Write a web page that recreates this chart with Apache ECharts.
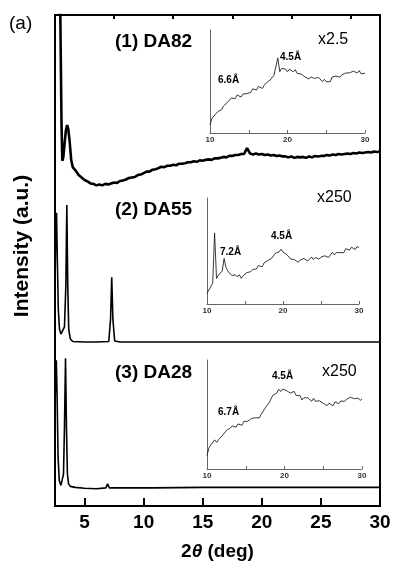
<!DOCTYPE html>
<html>
<head>
<meta charset="utf-8">
<script src="https://cdn.jsdelivr.net/npm/echarts@6/dist/echarts.min.js"></script>
<style>html,body{margin:0;padding:0;background:#fff}#c{width:393px;height:566px}</style>
</head>
<body>
<div id="c"></div>
<script>
// ---------- DATA ----------
var mainMajorTicks = [5, 10, 15, 20, 25, 30];
var mainMinorTicks = [7.5, 12.5, 17.5, 22.5, 27.5];
var insetTicks = [10, 15, 20, 25, 30];
var insetLabels = [10, 20, 30];

// (1) DA82, offset intensity (arb. units, 0-100 scale of the stacked plot)
var da82 = [
 [2.85,110],[2.95,100],[3.05,78],[3.12,70.3],[3.2,71],[3.3,73.5],[3.42,76.5],[3.53,77.6],[3.62,76.8],[3.73,74.5],[3.87,70.5],
 [4.00,69.0],[4.25,68.3],[4.50,67.4],[4.75,66.9],[5.00,66.4],[5.25,66.1],[5.50,65.7],[5.75,65.6],[6.00,65.3],[6.25,65.5],
 [6.50,65.3],[6.75,65.6],[7.00,65.5],[7.25,65.7],[7.50,65.9],[7.75,65.8],[8.00,66.2],[8.25,66.3],[8.50,66.5],[8.75,66.8],
 [9.00,66.9],[9.25,67.0],[9.50,67.4],[9.75,67.5],[10.00,67.8],[10.25,68.1],[10.50,68.1],[10.75,68.5],[11.00,68.6],[11.25,68.8],
 [11.50,69.1],[11.75,69.0],[12.00,69.3],[12.25,69.3],[12.50,69.5],[12.75,69.4],[13.00,69.7],[13.25,69.7],[13.50,69.8],[13.75,70.0],
 [14.00,70.0],[14.25,70.2],[14.50,70.1],[14.75,70.4],[15.00,70.3],[15.25,70.5],[15.50,70.6],[15.75,70.5],[16.00,70.8],[16.25,70.8],
 [16.50,70.9],[16.75,71.1],[17.00,71.0],[17.25,71.3],[17.50,71.3],[17.75,71.5],[18.00,71.5],[18.25,71.7],[18.50,71.7],[18.75,72.9],
 [19.00,71.8],[19.25,71.6],[19.50,71.8],[19.75,71.6],[20.00,71.7],[20.25,71.5],[20.50,71.6],[20.75,71.4],[21.00,71.5],[21.25,71.3],
 [21.50,71.4],[21.75,71.2],[22.00,71.2],[22.25,71.0],[22.50,71.2],[22.75,70.9],[23.00,71.1],[23.25,71.0],[23.50,71.1],[23.75,70.9],
 [24.00,71.2],[24.25,71.0],[24.50,71.3],[24.75,71.2],[25.00,71.3],[25.25,71.3],[25.50,71.5],[25.75,71.4],[26.00,71.6],[26.25,71.5],
 [26.50,71.7],[26.75,71.6],[27.00,71.7],[27.25,71.8],[27.50,71.7],[27.75,71.9],[28.00,71.8],[28.25,72.0],[28.50,71.9],[28.75,72.0],
 [29.00,72.1],[29.25,72.0],[29.50,72.2],[29.75,72.1],[30.00,72.2]
];
// (2) DA55
var da55 = [
 [2.5,45],[2.57,57],[2.63,59.7],[2.7,50],[2.78,40],[2.88,36],[3.0,35],[3.15,35],[3.3,36.5],[3.42,45],[3.5,61.3],[3.58,45],
 [3.66,36],[3.8,34],[4.0,33.5],[5,33.4],[6,33.4],[7.05,33.5],[7.2,38],[7.3,46.6],[7.4,38],[7.55,33.6],[8,33.4],[12,33.4],[20,33.4],[30,33.4]
];
// (3) DA28
var da28 = [
 [2.5,20],[2.56,27],[2.61,29.7],[2.68,22],[2.76,10],[2.86,5.2],[3.0,4.2],[3.12,4.3],[3.22,6.5],[3.3,16],[3.39,30.1],[3.47,16],
 [3.55,6.5],[3.65,4.5],[3.8,4.0],[4.2,3.8],[5.0,3.6],[6.0,3.5],[6.8,3.7],[6.95,4.5],[7.1,3.7],[8,3.7],[10.5,3.7],[10.65,4.0],
 [10.8,3.7],[15,3.8],[20,3.8],[30,3.8]
];

// insets: 2theta 10-30
var insetX = [
 10.00,10.25,10.50,10.75,11.00,11.25,11.50,11.75,12.00,12.25,
 12.50,12.75,13.00,13.25,13.50,13.75,14.00,14.25,14.50,14.75,
 15.00,15.25,15.50,15.75,16.00,16.25,16.50,16.75,17.00,17.25,
 17.50,17.75,18.00,18.25,18.50,18.75,19.00,19.25,19.50,19.75,
 20.00,20.25,20.50,20.75,21.00,21.25,21.50,21.75,22.00,22.25,
 22.50,22.75,23.00,23.25,23.50,23.75,24.00,24.25,24.50,24.75,
 25.00,25.25,25.50,25.75,26.00,26.25,26.50,26.75,27.00,27.25,
 27.50,27.75,28.00,28.25,28.50,28.75,29.00,29.25,29.50,29.75,
 30.00
];
var inset1Y = [
 8,14.2,14.6,18.6,20.7,20.1,22.8,26.3,25.2,29.7,
 30.4,34,34.3,33.3,36.9,35.3,34.9,37.8,39.1,38.3,
 40.2,39.3,42.9,42.5,41.7,45.3,43.7,43.2,46.4,48.6,
 48.2,51.4,51.3,56,57.1,73,59.5,62.7,60.9,62.1,
 59.4,62,60.8,59.3,61.5,57.8,59.1,57.3,57.8,54.4,
 55.4,52.4,54.4,55.3,53,52.2,54,52.4,50,52.1,
 49.7,50.5,49.7,54.3,53.2,55.3,56.4,54.2,56.3,55.8,
 58.2,56.3,58.4,56.6,60,59.2,58.3,60.6,57.3,59.1,
 58
];
var inset2Y = [
 10,13.3,13.8,19.6,67,24,27.2,26.3,31.1,43,
 34.4,31,30.3,26.9,28.6,27.5,25.5,27.6,24.2,26.7,
 26.7,29.6,27.8,30.5,32.5,31.3,33,36.3,36.2,35,
 38.7,37.7,41.1,40.8,43.1,43.1,47.9,46.6,49.3,51.7,
 48.9,49.8,46.6,46.5,42.5,42.5,41.9,42.3,39.3,41.4,
 40.4,43,42.4,40.5,41.9,44.4,41.9,43.9,45,42.3,
 44.2,43.5,45.5,45.6,43.9,45.7,48.9,46.4,48.4,50.1,
 48.5,50.3,48.4,52.2,51.1,50.8,53.7,53,51.4,54.2,
 53.2
];
var inset3Y = [
 12.4,19.2,22.3,23.1,26.7,24.4,27,27.3,30.8,30.9,
 35.4,34.2,37.4,39.5,38.2,38.4,41.4,41.2,40,43.6,
 42.3,43.8,42.5,46.4,44.7,47,48.5,46.9,50.3,51.5,
 55.9,56,60.6,61.3,67.7,69,69.6,73.1,71.1,73.3,
 72.4,72,72.7,69.6,71.1,71.2,67.4,66.8,67.3,63.3,
 65.3,63.6,65.3,63.8,62.1,64.9,62.1,60.6,62.6,62.6,
 60.3,60.5,58.1,60.4,59.2,57.9,61.6,60.3,59.9,62.4,
 63.6,62,63.9,62.5,65.8,65.1,64.5,63,65,62.9,
 64.3
];
// text
var panelNames = ['(1) DA82', '(2) DA55', '(3) DA28'];
var scaleNames = ['x2.5', 'x250', 'x250'];

// ---------- CHART ----------
function zip(xs, ys) { return xs.map(function (x, i) { return [x, ys[i]]; }); }
var FF = '"Liberation Sans", Arial, Helvetica, sans-serif';
var chart = echarts.init(document.getElementById('c'), null, {renderer: 'canvas'});

function insetX_(gi) {
  return {
    type: 'value', gridIndex: gi, min: 10, max: 30,
    axisLine: {show: true, lineStyle: {color: '#666', width: 1}},
    axisTick: {show: true, inside: true, length: 3, customValues: insetTicks, lineStyle: {color: '#666', width: 1}},
    axisLabel: {show: true, customValues: insetLabels, margin: 3, fontSize: 8, fontWeight: 'bold', color: '#333', fontFamily: FF},
    splitLine: {show: false}
  };
}
function insetY_(gi) {
  return {
    type: 'value', gridIndex: gi, min: 0, max: 100,
    axisLine: {show: true, onZero: false, lineStyle: {color: '#666', width: 1}},
    axisTick: {show: false}, axisLabel: {show: false}, splitLine: {show: false}
  };
}
function txt(t, x, y, size, weight, rot, align) {
  return {type: 'text', x: x, y: y, z: 100, rotation: rot || 0,
    style: {text: t, fill: '#000', font: (weight || 'normal') + ' ' + size + 'px ' + FF, verticalAlign: 'middle', align: align || 'left'}};
}
var insetLine = {color: '#222', width: 0.9};

var option = {
  animation: false,
  backgroundColor: '#fff',
  grid: [
    {left: 55, top: 15, width: 325, height: 491, show: true, borderColor: '#000', borderWidth: 2, backgroundColor: 'transparent', outerBoundsMode: 'none'},
    {left: 210, top: 30, width: 155, height: 103, outerBoundsMode: 'none'},
    {left: 207, top: 198, width: 152, height: 106, outerBoundsMode: 'none'},
    {left: 207, top: 360, width: 155, height: 109, outerBoundsMode: 'none'}
  ],
  xAxis: [
    {type: 'value', gridIndex: 0, min: 2.5, max: 30,
     axisLine: {show: true, lineStyle: {color: '#000', width: 2}},
     axisTick: {show: true, inside: true, length: 8, customValues: mainMajorTicks, lineStyle: {color: '#000', width: 2}},
     axisLabel: {show: true, customValues: mainMajorTicks, margin: 7, fontSize: 19, fontWeight: 'bold', color: '#000', fontFamily: FF},
     splitLine: {show: false},
     name: '{b|2}{i|θ}{b| (deg)}', nameLocation: 'middle', nameGap: 36,
     nameTextStyle: {rich: {b: {fontSize: 19, fontWeight: 'bold', fontFamily: FF, color: '#000'}, i: {fontSize: 19, fontWeight: 'bold', fontStyle: 'italic', fontFamily: FF, color: '#000'}}}
    },
    {type: 'value', gridIndex: 0, min: 2.5, max: 30,
     axisLine: {show: false},
     axisTick: {show: true, inside: true, length: 4, customValues: mainMinorTicks, lineStyle: {color: '#000', width: 2}},
     axisLabel: {show: false}, splitLine: {show: false}},
    insetX_(1), insetX_(2), insetX_(3)
  ],
  yAxis: [
    {type: 'value', gridIndex: 0, min: 0, max: 100,
     axisLine: {show: true, lineStyle: {color: '#000', width: 2}},
     axisTick: {show: false}, axisLabel: {show: false}, splitLine: {show: false}},
    insetY_(1), insetY_(2), insetY_(3)
  ],
  series: [
    {type: 'line', xAxisIndex: 0, yAxisIndex: 0, data: da82, showSymbol: false, clip: true, lineStyle: {color: '#000', width: 2.6}},
    {type: 'line', xAxisIndex: 0, yAxisIndex: 0, data: da55, showSymbol: false, clip: true, lineStyle: {color: '#000', width: 1.6}},
    {type: 'line', xAxisIndex: 0, yAxisIndex: 0, data: da28, showSymbol: false, clip: true, lineStyle: {color: '#000', width: 1.6}},
    {type: 'line', xAxisIndex: 2, yAxisIndex: 1, data: zip(insetX, inset1Y), showSymbol: false, lineStyle: insetLine},
    {type: 'line', xAxisIndex: 3, yAxisIndex: 2, data: zip(insetX, inset2Y), showSymbol: false, lineStyle: insetLine},
    {type: 'line', xAxisIndex: 4, yAxisIndex: 3, data: zip(insetX, inset3Y), showSymbol: false, lineStyle: insetLine}
  ],
  graphic: [
    txt('(a)', 9, 24, 19),
    txt('Intensity (a.u.)', 22, 246, 21, 'bold', Math.PI / 2, 'center'),
    txt(panelNames[0], 115, 42, 19, 'bold'),
    txt(panelNames[1], 115, 210, 19, 'bold'),
    txt(panelNames[2], 115, 373, 19, 'bold'),
    txt(scaleNames[0], 318, 40, 16),
    txt(scaleNames[1], 317, 198, 16),
    txt(scaleNames[2], 322, 372, 16),
    txt('4.5Å', 280, 57, 10, 'bold'),
    txt('6.6Å', 218, 80, 10, 'bold'),
    txt('4.5Å', 271, 236, 10, 'bold'),
    txt('7.2Å', 220, 252, 10, 'bold'),
    txt('4.5Å', 272, 376, 10, 'bold'),
    txt('6.7Å', 218, 412, 10, 'bold')
  ]
};
chart.setOption(option);
</script>
</body>
</html>
